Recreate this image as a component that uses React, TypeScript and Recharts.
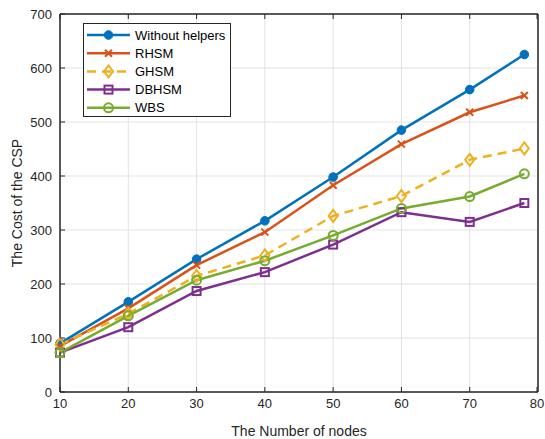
import React from "react";
import { LineChart, Line, XAxis, YAxis, CartesianGrid, ReferenceArea } from "recharts";

const nodes = [10, 20, 30, 40, 50, 60, 70, 78];
const withoutHelpers = [90, 167, 246, 317, 398, 485, 560, 625];
const rhsm = [85, 155, 235, 296, 383, 459, 518, 549];
const ghsm = [88, 145, 215, 253, 326, 363, 430, 451];
const dbhsm = [73, 120, 187, 222, 273, 333, 315, 350];
const wbs = [73, 141, 207, 243, 290, 340, 362, 404];

const xTicks = [10, 20, 30, 40, 50, 60, 70, 80];
const yTicks = [0, 100, 200, 300, 400, 500, 600, 700];

const FONT = "'Liberation Sans', Arial, sans-serif";
const INK = "#262626";

const data = nodes.map((n, i) => ({
  nodes: n,
  withoutHelpers: withoutHelpers[i],
  rhsm: rhsm[i],
  ghsm: ghsm[i],
  dbhsm: dbhsm[i],
  wbs: wbs[i],
}));

type Kind = "dot" | "x" | "diamond" | "square" | "ring";

const series: { key: string; name: string; color: string; kind: Kind; dash?: string }[] = [
  { key: "withoutHelpers", name: "Without helpers", color: "#0072BD", kind: "dot" },
  { key: "rhsm", name: "RHSM", color: "#D95319", kind: "x" },
  { key: "ghsm", name: "GHSM", color: "#EDB120", kind: "diamond", dash: "9 6" },
  { key: "dbhsm", name: "DBHSM", color: "#7E2F8E", kind: "square" },
  { key: "wbs", name: "WBS", color: "#77AC30", kind: "ring" },
];

const marker = (kind: Kind, cx: number, cy: number, color: string, key?: string) => {
  switch (kind) {
    case "dot":
      return <circle key={key} cx={cx} cy={cy} r={4.3} fill={color} stroke={color} />;
    case "x":
      return (
        <path
          key={key}
          d={`M${cx - 3.5} ${cy - 3.5}L${cx + 3.5} ${cy + 3.5}M${cx - 3.5} ${cy + 3.5}L${cx + 3.5} ${cy - 3.5}`}
          stroke={color}
          strokeWidth={2}
          fill="none"
        />
      );
    case "diamond":
      return (
        <path
          key={key}
          d={`M${cx} ${cy - 6}L${cx + 4.5} ${cy}L${cx} ${cy + 6}L${cx - 4.5} ${cy}Z`}
          stroke={color}
          strokeWidth={2}
          fill="none"
        />
      );
    case "square":
      return <rect key={key} x={cx - 4} y={cy - 4} width={8} height={8} stroke={color} strokeWidth={2} fill="none" />;
    case "ring":
      return <circle key={key} cx={cx} cy={cy} r={4.5} stroke={color} strokeWidth={2} fill="none" />;
  }
};

const XTick = (props: any) => {
  const { x, y, payload } = props;
  return (
    <g>
      <line x1={x} x2={x} y1={y - 8} y2={y - 13} stroke={INK} strokeWidth={1} />
      <text x={x} y={y + 8} textAnchor="middle" fontSize={13} fontFamily={FONT} fill={INK}>
        {payload.value}
      </text>
    </g>
  );
};

const YTick = (props: any) => {
  const { x, y, payload } = props;
  return (
    <g>
      <line x1={x + 8} x2={x + 13} y1={y} y2={y} stroke={INK} strokeWidth={1} />
      <text x={x} y={y} dy={4.5} textAnchor="end" fontSize={13} fontFamily={FONT} fill={INK}>
        {payload.value}
      </text>
    </g>
  );
};

// inward tick marks on the top and right edges of the box
const TopTick = (props: any) => {
  const { x, y } = props;
  return <line x1={x} x2={x} y1={y} y2={y + 5} stroke={INK} strokeWidth={1} />;
};

const RightTick = (props: any) => {
  const { x, y } = props;
  return <line x1={x - 5} x2={x} y1={y} y2={y} stroke={INK} strokeWidth={1} />;
};

const LegendBox = () => (
  <div
    style={{
      position: "absolute",
      left: 83,
      top: 23,
      width: 148,
      height: 94,
      border: `1px solid ${INK}`,
      background: "#fff",
      boxSizing: "border-box",
    }}
  >
    <svg width={148} height={94} style={{ position: "absolute", left: -1, top: -1 }}>
      {series.map((s, i) => {
        const cy = 12 + i * 18.2;
        return (
          <g key={s.key}>
            <line x1={4} x2={47} y1={cy} y2={cy} stroke={s.color} strokeWidth={2.5} strokeDasharray={s.dash} />
            {marker(s.kind, 25.5, cy, s.color)}
            <text x={52} y={cy} dy={4.5} fontSize={13} fontFamily={FONT} fill="#000">
              {s.name}
            </text>
          </g>
        );
      })}
    </svg>
  </div>
);

export default function App() {
  return (
    <div style={{ position: "absolute", left: 0, top: 0, width: 545, height: 439, background: "#fff" }}>
      <LineChart width={545} height={439} data={data} margin={{ top: 0, right: 0, bottom: 0, left: 0 }}>
        <CartesianGrid stroke="#e3e3e3" strokeWidth={1} />
        <XAxis
          dataKey="nodes"
          type="number"
          domain={[10, 80]}
          ticks={xTicks}
          height={47}
          tickLine={false}
          tickSize={0}
          tickMargin={8}
          axisLine={{ stroke: INK }}
          tick={<XTick />}
          label={{
            value: "The Number of nodes",
            position: "insideBottom",
            offset: 3,
            fontSize: 14,
            fontFamily: FONT,
            fill: INK,
          }}
        />
        <XAxis
          xAxisId="top"
          orientation="top"
          dataKey="nodes"
          type="number"
          domain={[10, 80]}
          ticks={xTicks}
          height={14}
          tickLine={false}
          tickSize={0}
          tickMargin={0}
          axisLine={{ stroke: INK }}
          tick={<TopTick />}
        />
        <YAxis
          type="number"
          domain={[0, 700]}
          ticks={yTicks}
          width={60}
          tickLine={false}
          tickSize={0}
          tickMargin={8}
          axisLine={{ stroke: INK }}
          tick={<YTick />}
          label={{
            value: "The Cost of the CSP",
            angle: -90,
            position: "insideLeft",
            offset: 17,
            fontSize: 14,
            fontFamily: FONT,
            fill: INK,
            style: { textAnchor: "middle" },
          }}
        />
        <YAxis
          yAxisId="right"
          orientation="right"
          type="number"
          domain={[0, 700]}
          ticks={yTicks}
          width={7}
          tickLine={false}
          tickSize={0}
          tickMargin={0}
          axisLine={{ stroke: INK }}
          tick={<RightTick />}
        />
        <ReferenceArea x1={10} x2={80} y1={0} y2={700} fill="none" stroke={INK} strokeWidth={1} ifOverflow="visible" />
        {series.map((s) => (
          <Line
            key={s.key}
            dataKey={s.key}
            name={s.name}
            stroke={s.color}
            strokeWidth={2.5}
            strokeDasharray={s.dash}
            isAnimationActive={false}
            dot={(p: any) => marker(s.kind, p.cx, p.cy, s.color, `${s.key}-${p.index}`)}
            activeDot={false}
          />
        ))}
      </LineChart>
      <LegendBox />
    </div>
  );
}
